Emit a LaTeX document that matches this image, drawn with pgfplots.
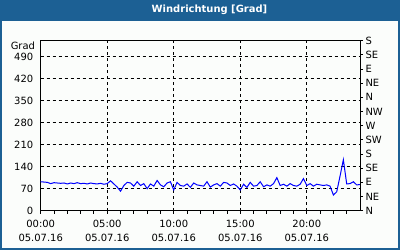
\documentclass[border=0pt]{standalone}
\usepackage{fontspec}
\setmainfont{DejaVu Sans}
\usepackage{pgfplots}
\pgfplotsset{compat=1.18}
\definecolor{frameblue}{RGB}{28,96,148}
\definecolor{bgwhite}{RGB}{251,253,251}
\definecolor{lineblue}{RGB}{0,0,255}
\pgfplotstableread{
h v
0.00 92
0.25 91
0.50 90
0.75 86
1.00 89
1.25 88
1.50 87
1.75 88
2.00 85
2.25 88
2.50 86
2.75 89
3.00 86
3.25 87
3.50 85
3.75 88
4.00 86
4.25 85
4.50 87
4.75 84
5.00 86
5.25 95
5.50 85
5.75 75
6.00 62
6.25 80
6.50 90
6.75 88
7.00 78
7.25 92
7.50 80
7.75 86
8.00 70
8.25 85
8.50 78
8.75 96
9.00 82
9.25 76
9.50 88
9.75 92
10.00 66
10.25 90
10.50 80
10.75 78
11.00 85
11.25 74
11.50 88
11.75 82
12.00 80
12.25 78
12.50 92
12.75 75
13.00 82
13.25 86
13.50 78
13.75 90
14.00 88
14.25 80
14.50 85
14.75 78
15.00 66
15.25 84
15.50 74
15.75 90
16.00 78
16.25 80
16.50 92
16.75 76
17.00 82
17.25 78
17.50 86
17.75 105
18.00 80
18.25 84
18.50 78
18.75 86
19.00 80
19.25 78
19.50 84
19.75 102
20.00 80
20.25 86
20.50 78
20.75 84
21.00 82
21.25 80
21.50 82
21.75 78
22.00 50
22.25 60
22.50 110
22.75 162
23.00 85
23.25 86
23.50 92
23.75 82
24.00 83
}\winddata
\begin{document}
\begin{tikzpicture}[x=1bp,y=1bp]
\fill[frameblue] (0,0) rectangle (400,250);
\fill[bgwhite] (2,2) rectangle (398,229);
\node[text=white,font=\bfseries\fontsize{10}{12}\selectfont] at (209.5,240) {Windrichtung [Grad]};
\begin{axis}[
  at={(40.7bp,39.3bp)}, anchor=south west,
  scale only axis, width=319.3bp, height=170bp,
  xmin=0, xmax=24, ymin=0, ymax=540,
  axis line style={black, line width=0.9bp},
  xtick={0,5,10,15,20},
  xticklabels={{00:00\\05.07.16},{05:00\\05.07.16},{10:00\\05.07.16},{15:00\\05.07.16},{20:00\\05.07.16}},
  minor xtick={1,2,3,4,6,7,8,9,11,12,13,14,16,17,18,19,21,22,23},
  ytick={0,70,140,210,280,350,420,490},
  xtick pos=bottom, ytick pos=left,
  tick align=outside,
  major tick length=3bp, minor tick length=3bp,
  x tick style={black, line width=0.9bp},
  y tick style={draw=none},
  grid=major,
  major grid style={black, dash pattern=on 3bp off 3bp, line width=0.9bp},
  /pgf/number format/assume math mode=true,
  tick label style={font=\fontsize{10}{14}\selectfont, black},
  xticklabel style={align=center, yshift=-3bp},
  yticklabel style={xshift=-1bp},
  clip=false,
]
\addplot[lineblue, line width=1bp, mark=none] table[x=h,y=v] {\winddata};
\node[anchor=east, font=\fontsize{10}{12}\selectfont, inner sep=0pt] at ([xshift=-5.5bp]rel axis cs:0,0.97) {Grad};
\end{axis}
\begin{axis}[
  at={(40.7bp,39.3bp)}, anchor=south west,
  scale only axis, width=319.3bp, height=170bp,
  xmin=0, xmax=24, ymin=0, ymax=540,
  hide x axis,
  axis y line*=right,
  axis line style={black, line width=0.9bp, -},
  ytick={0,45,90,135,180,225,270,315,360,405,450,495,540},
  yticklabels={N,NE,E,SE,S,SW,W,NW,N,NE,E,SE,S},
  tick align=outside, major tick length=3bp,
  y tick style={black, line width=0.9bp},
  tick label style={font=\fontsize{10}{12}\selectfont, black},
  yticklabel style={xshift=-1bp},
]
\addplot[draw=none] coordinates {(0,0)};
\end{axis}
\end{tikzpicture}
\end{document}
